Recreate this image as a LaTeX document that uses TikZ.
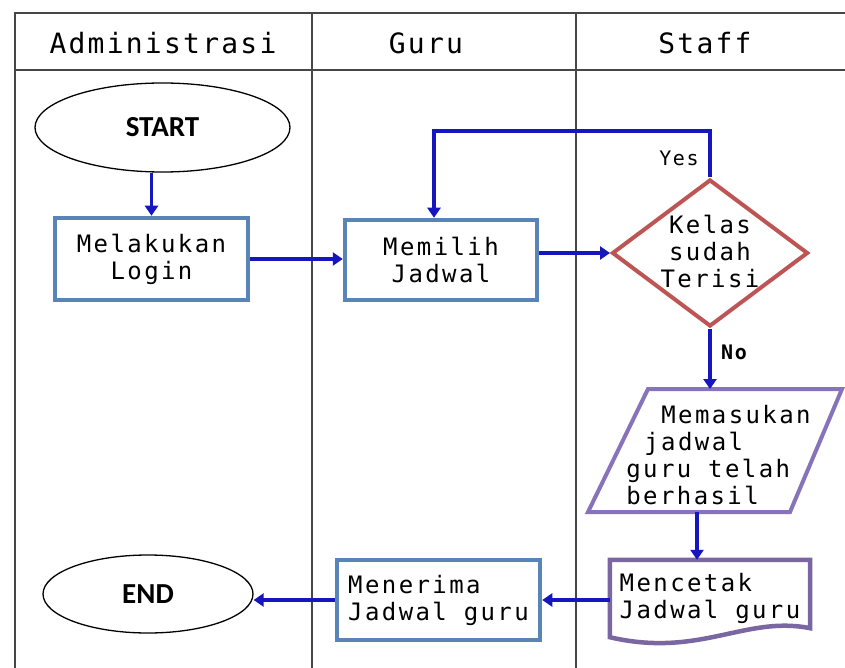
\documentclass[tikz,border=0pt]{standalone}
\usepackage{fontspec}
\usetikzlibrary{shapes.geometric,arrows.meta}

% fonts
\newfontfamily\pixfont[LetterSpace=10]{DejaVu Sans Mono}
\newfontfamily\headfont[LetterSpace=8]{DejaVu Sans Mono}
\newfontfamily\tagfont[LetterSpace=8]{DejaVu Sans Mono}
\newfontfamily\termfont{Carlito}
\newcommand\pixtext{\pixfont\fontsize{24}{27}\selectfont}
\newcommand\headtext{\headfont\fontsize{28}{32}\selectfont}
\newcommand\tagtext{\tagfont\fontsize{20}{22}\selectfont}
\newcommand\termtext{\termfont\bfseries\fontsize{29}{32}\selectfont}

% colours
\definecolor{lanegray}{RGB}{70,70,70}
\definecolor{boxblue}{RGB}{88,132,184}
\definecolor{flowblue}{RGB}{22,22,190}
\definecolor{decred}{RGB}{190,85,85}
\definecolor{iopurple}{RGB}{135,115,185}
\definecolor{docpurple}{RGB}{122,102,162}

\begin{document}
\begin{tikzpicture}[x=1pt,y=-1pt,
  lane/.style={draw=lanegray, line width=2.2pt},
  head/.style={font=\headtext, inner sep=0pt},
  procbox/.style={rectangle, draw=boxblue, line width=4.5pt, inner sep=0pt,
    font=\pixtext, align=center},
  terminal/.style={ellipse, draw=black, line width=1.3pt, inner sep=0pt,
    font=\termtext},
  decision/.style={diamond, draw=decred, line width=4pt, inner sep=0pt,
    minimum width=196pt, minimum height=147pt},
  framebox/.style={rectangle, draw=none, inner sep=0pt, outer sep=0pt},
  ioline/.style={draw=iopurple, line width=4pt, line join=miter},
  docbox/.style={rectangle, draw=none, inner sep=0pt, font=\pixtext, align=left},
  docline/.style={draw=docpurple, line width=4.5pt, line join=miter},
  plaintext/.style={font=\pixtext, inner sep=0pt},
  tag/.style={font=\tagtext, inner sep=0pt},
  flow/.style={draw=flowblue, line width=3.2pt, -{Triangle[length=10pt,width=13pt]}}
]
\useasboundingbox (0,0) rectangle (845,668);
\fill[white] (0,0) rectangle (845,668);

% swimlane frame
\draw[lane] (845,13) -- (15,13) -- (15,668);
\draw[lane] (15,70) -- (845,70);
\draw[lane] (312,13) -- (312,668);
\draw[lane] (576,13) -- (576,668);

\node[head] (hadm) at (163,43) {Administrasi};
\node[head] (hguru) at (426,43) {Guru};
\node[head] (hstaff) at (705,43) {Staff};

% flow elements
\node[terminal, minimum width=255pt, minimum height=89pt] (start) at (162.5,127.5) {START};
\node[procbox, minimum width=193pt, minimum height=82pt] (login) at (151.5,259) {Melakukan\\Login};
\node[procbox, minimum width=192pt, minimum height=80pt] (pilih) at (441,260) {Memilih\\Jadwal};
\node[decision] (cek) at (710,253) {};
\node[plaintext, align=center] (cektext) at (710,251) {Kelas\\sudah\\Terisi};

% input/output parallelogram
\node[framebox, minimum width=254pt, minimum height=123pt] (simpan) at (715,450.5) {};
\draw[ioline] (simpan.south west) -- ([xshift=60pt]simpan.north west)
  -- (simpan.north east) -- ([xshift=-52pt]simpan.south east) -- cycle;
\node[plaintext, align=left] (simpantext) at (718.5,455)
  {\hspace*{35pt}Memasukan\\\hspace*{18pt}jadwal\\guru telah\\berhasil};

% printed document
\node[docbox, minimum width=200pt, minimum height=80pt] (cetak) at (710,600)
  {\raisebox{4pt}{\begin{tabular}{@{}l@{}}Mencetak\\Jadwal guru\end{tabular}}};
\draw[docline] (cetak.north west) -- (cetak.north east)
  -- ([yshift=12pt]cetak.south east)
  .. controls ([xshift=-65pt,yshift=25pt]cetak.south east)
  and ([xshift=90pt,yshift=-18pt]cetak.south west) .. ([yshift=3pt]cetak.south west)
  -- cycle;
\node[procbox, align=left, minimum width=203pt, minimum height=80pt] (terima) at (438.5,600)
  {Menerima\\Jadwal guru};
\node[terminal, minimum width=210pt, minimum height=78pt] (finish) at (148,594) {END};

% connectors
\draw[flow] (start.south -| login.north) -- (login.north);
\draw[flow] (login.east) -- (login.east -| pilih.west);
\draw[flow] (pilih.east |- cek.west) -- (cek.west);
\coordinate (yesbend) at (710,131);
\draw[flow] (cek.north) -- (yesbend) -| ([xshift=-7pt]pilih.north);
\node[tag] (yes) at (679,158) {Yes};
\draw[flow] (cek.south) -- (cek.south |- simpan.north);
\node[tag, font=\tagtext\bfseries] (no) at (734,352) {No};
\draw[flow] ([xshift=-13pt]cetak.north |- simpan.south) -- ([xshift=-13pt]cetak.north);
\draw[flow] (cetak.west) -- (cetak.west -| terima.east);
\draw[flow] (terima.west) -- (terima.west -| finish.east);
\end{tikzpicture}
\end{document}
